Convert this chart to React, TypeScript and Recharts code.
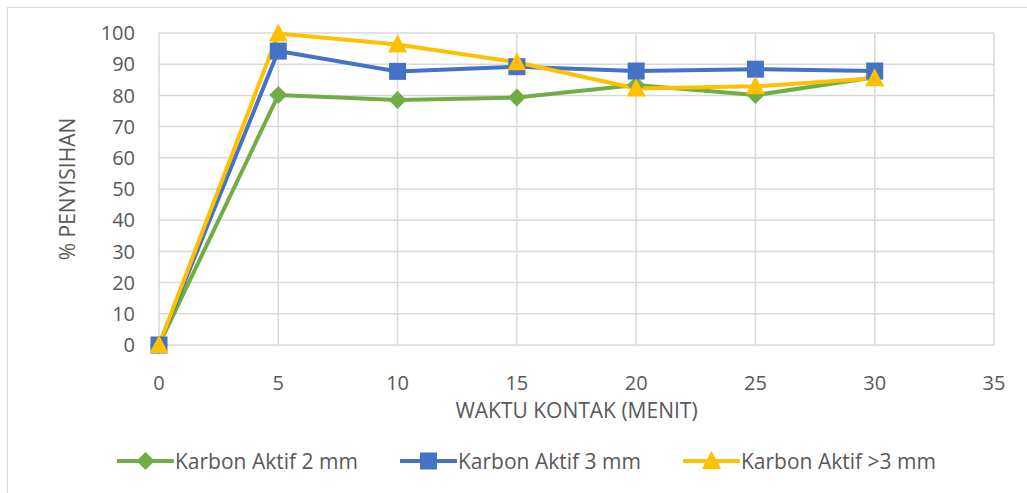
import React from "react";
import {
  CartesianGrid,
  Legend,
  Line,
  LineChart,
  XAxis,
  YAxis,
} from "recharts";

const waktu = [0, 5, 10, 15, 20, 25, 30];
const karbon2mm = [0, 80.1, 78.5, 79.3, 83.3, 80.1, 85.8];
const karbon3mm = [0, 94.2, 87.7, 89.2, 87.8, 88.4, 87.8];
const karbonLebih3mm = [0, 99.8, 96.3, 90.6, 82.2, 82.9, 85.5];

const xTicks = [0, 5, 10, 15, 20, 25, 30, 35];
const yTicks = [0, 10, 20, 30, 40, 50, 60, 70, 80, 90, 100];

const data = waktu.map((t, i) => ({
  t,
  a: karbon2mm[i],
  b: karbon3mm[i],
  c: karbonLebih3mm[i],
}));

const FONT = "'Open Sans', sans-serif";
const TEXT = "#595959";
const GRID = "#d9d9d9";

type Shape = "diamond" | "square" | "triangle";

const series: { key: string; name: string; color: string; shape: Shape }[] = [
  { key: "a", name: "Karbon Aktif 2 mm", color: "#70ad47", shape: "diamond" },
  { key: "b", name: "Karbon Aktif 3 mm", color: "#4472c4", shape: "square" },
  { key: "c", name: "Karbon Aktif >3 mm", color: "#ffc000", shape: "triangle" },
];

function Marker({ cx, cy, shape, color }: { cx: number; cy: number; shape: Shape; color: string }) {
  if (shape === "square") {
    return <rect x={cx - 8.5} y={cy - 8.5} width={17} height={17} fill={color} />;
  }
  if (shape === "triangle") {
    return (
      <polygon
        points={`${cx},${cy - 10} ${cx + 9.5},${cy + 8} ${cx - 9.5},${cy + 8}`}
        fill={color}
      />
    );
  }
  return (
    <polygon
      points={`${cx},${cy - 9} ${cx + 9},${cy} ${cx},${cy + 9} ${cx - 9},${cy}`}
      fill={color}
    />
  );
}

function makeDot(shape: Shape, color: string) {
  return (props: any) => {
    const { cx, cy, index } = props;
    if (cx == null || cy == null) return <g key={index} />;
    return (
      <g key={index}>
        <Marker cx={cx} cy={cy} shape={shape} color={color} />
      </g>
    );
  };
}

function LegendBox() {
  return (
    <div style={{ display: "flex", paddingLeft: 117, fontFamily: FONT }}>
      {series.map((s) => (
        <div key={s.key} style={{ width: 283, display: "flex", alignItems: "center" }}>
          <svg width={57} height={22}>
            <line x1={1} y1={11} x2={56} y2={11} stroke={s.color} strokeWidth={4} strokeLinecap="round" />
            <Marker cx={28.5} cy={11} shape={s.shape} color={s.color} />
          </svg>
          <span style={{ fontSize: 21, color: TEXT, marginLeft: 1 }}>{s.name}</span>
        </div>
      ))}
    </div>
  );
}

export default function App() {
  return (
    <div style={{ position: "absolute", left: 0, top: 0, width: 1027, height: 493, background: "#fff" }}>
      <div
        style={{
          position: "absolute",
          left: 7,
          top: 7,
          right: 0,
          bottom: 0,
          borderTop: `1.5px solid ${GRID}`,
          borderLeft: `1.5px solid ${GRID}`,
        }}
      />
      <LineChart
        width={1027}
        height={493}
        data={data}
        margin={{ top: 33, right: 33, left: 0, bottom: 68 }}
        style={{ fontFamily: FONT }}
      >
        <CartesianGrid stroke={GRID} strokeWidth={1.5} />
        <XAxis
          dataKey="t"
          type="number"
          domain={[0, 35]}
          ticks={xTicks}
          interval={0}
          axisLine={false}
          tickLine={false}
          tickMargin={25}
          height={80}
          tick={{ fontSize: 20, fill: TEXT }}
          label={{ value: "WAKTU KONTAK (MENIT)", position: "insideBottom", offset: 7, fontSize: 21, fill: TEXT }}
        />
        <YAxis
          domain={[0, 100]}
          ticks={yTicks}
          interval={0}
          axisLine={false}
          tickLine={false}
          tickMargin={18}
          width={159}
          tick={{ fontSize: 20, fill: TEXT }}
          label={{
            value: "% PENYISIHAN",
            angle: -90,
            position: "insideLeft",
            offset: 68,
            fontSize: 21,
            fill: TEXT,
            style: { textAnchor: "middle" },
          }}
        />
        <Legend
          layout="horizontal"
          verticalAlign="middle"
          align="center"
          content={() => <LegendBox />}
          wrapperStyle={{ top: 447, left: 0, width: 1027 }}
        />
        {series.map((s) => (
          <Line
            key={s.key}
            type="linear"
            dataKey={s.key}
            name={s.name}
            stroke={s.color}
            strokeWidth={4}
            dot={makeDot(s.shape, s.color)}
            activeDot={false}
            isAnimationActive={false}
          />
        ))}
      </LineChart>
    </div>
  );
}
